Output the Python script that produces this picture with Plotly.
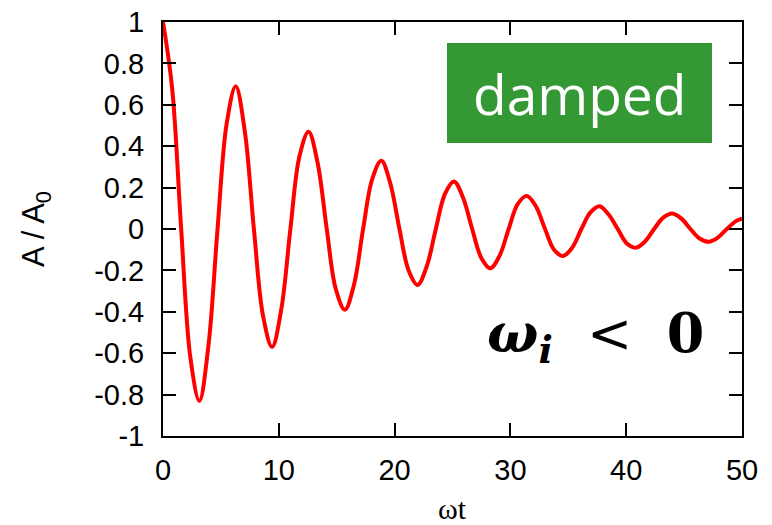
import plotly.graph_objects as go

# Values (omega t, A/A0)
wt = [0.00, 0.79, 1.57, 2.36, 3.14, 3.93, 4.71, 5.50, 6.28, 7.07, 7.85, 8.64, 9.42, 10.21,
      11.00, 11.78, 12.57, 13.35, 14.14, 14.92, 15.71, 16.49, 17.28, 18.06, 18.85, 19.63,
      20.42, 21.21, 21.99, 22.78, 23.56, 24.35, 25.13, 25.92, 26.70, 27.49, 28.27, 29.06,
      29.85, 30.63, 31.42, 32.20, 32.99, 33.77, 34.56, 35.34, 36.13, 36.91, 37.70, 38.48,
      39.27, 40.06, 40.84, 41.63, 42.41, 43.20, 43.98, 44.77, 45.55, 46.34, 47.12, 47.91,
      48.69, 49.48, 50.00]
amp = [1.00, 0.68, 0.00, -0.62, -0.83, -0.56, 0.00, 0.51, 0.69, 0.47, 0.00, -0.42, -0.57, -0.39,
       0.00, 0.35, 0.47, 0.32, 0.00, -0.29, -0.39, -0.27, 0.00, 0.24, 0.33, 0.22,
       0.00, -0.20, -0.27, -0.18, 0.00, 0.17, 0.23, 0.15, 0.00, -0.14, -0.19, -0.13,
       0.00, 0.12, 0.16, 0.11, 0.00, -0.10, -0.13, -0.09, 0.00, 0.08, 0.11, 0.07,
       0.00, -0.07, -0.09, -0.06, 0.00, 0.055, 0.075, 0.05, 0.00, -0.046, -0.062, -0.042,
       0.00, 0.038, 0.05]

x_ticks = [0, 10, 20, 30, 40, 50]
y_ticks = [-1, -0.8, -0.6, -0.4, -0.2, 0, 0.2, 0.4, 0.6, 0.8, 1]
y_tick_labels = ["-1", "-0.8", "-0.6", "-0.4", "-0.2", "0", "0.2", "0.4", "0.6", "0.8", "1"]

fig = go.Figure()
fig.add_trace(go.Scatter(x=wt, y=amp, mode="lines",
                         line=dict(color="#ff0000", width=4, shape="spline", smoothing=1.0),
                         showlegend=False, hoverinfo="skip"))

axis_common = dict(showline=True, linecolor="black", linewidth=2, mirror="allticks",
                   ticks="inside", ticklen=13, tickwidth=2, tickcolor="black",
                   showgrid=False, zeroline=False, automargin=False,
                   tickfont=dict(family="Liberation Sans, Arial, sans-serif", size=29, color="black"))

fig.update_xaxes(range=[0, 50], tickvals=x_ticks, ticktext=[str(v) for v in x_ticks],
                 ticklabelstandoff=7,
                 **axis_common)
fig.update_yaxes(range=[-1, 1], tickvals=y_ticks, ticktext=y_tick_labels,
                 ticklabelstandoff=11,
                 title=dict(text="A / A<sub>0</sub>", font=dict(family="Liberation Sans, Arial", size=31, color="black"),
                            standoff=40),
                 **axis_common)

# x axis title
fig.add_annotation(xref="paper", yref="paper", x=0.5, y=(436 - 509) / 414,
                   xanchor="center", yanchor="middle", text="ωt", showarrow=False,
                   borderpad=0,
                   font=dict(family="Liberation Serif, Times New Roman, serif", size=30, color="black"))

fig.add_shape(type="rect", xref="paper", yref="paper",
              x0=(447 - 163) / 579, x1=(712 - 163) / 579,
              y0=(436 - 143) / 414, y1=(436 - 43) / 414,
              fillcolor="#349935", line=dict(width=0), layer="above")
fig.add_annotation(xref="paper", yref="paper", x=(579.5 - 163) / 579, y=(436 - 93) / 414,
                   xanchor="center", yanchor="middle",
                   text="damped", showarrow=False,
                   font=dict(family="Open Sans, sans-serif", size=55, color="white"))
fig.add_annotation(xref="paper", yref="paper", x=(595 - 163) / 579, y=(436 - 336) / 414,
                   xanchor="center", yanchor="middle",
                   text="<b><i>ω</i><sub><i>i</i></sub></b>&#160;&#160;&lt;&#160;&#160;<b>0</b>",
                   showarrow=False,
                   font=dict(family="DejaVu Serif, Liberation Serif, serif", size=54, color="black"))

fig.update_layout(width=772, height=525, plot_bgcolor="white", paper_bgcolor="white",
                  margin=dict(l=163, r=30, t=22, b=89))

fig.write_html("out.html")
